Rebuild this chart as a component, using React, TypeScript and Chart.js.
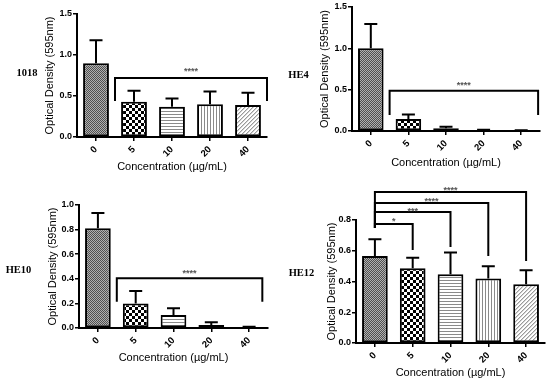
import React, { useEffect, useRef } from 'react';
import { Chart, registerables } from 'chart.js';

Chart.register(...registerables);

// ---------------- DATA ----------------
const categories = ['0', '5', '10', '20', '40'];

const values1018 = [0.9, 0.43, 0.37, 0.4, 0.39];
const errors1018 = [0.28, 0.135, 0.1, 0.155, 0.15];

const valuesHE4 = [1.0, 0.145, 0.032, 0.008, 0.005];
const errorsHE4 = [0.295, 0.055, 0.02, 0.008, 0.005];

const valuesHE10 = [0.81, 0.2, 0.105, 0.024, 0.003];
const errorsHE10 = [0.125, 0.1, 0.055, 0.022, 0.007];

const valuesHE12 = [0.566, 0.486, 0.447, 0.42, 0.382];
const errorsHE12 = [0.108, 0.069, 0.141, 0.08, 0.091];

// significance brackets: [fromIndex, toIndex, barY, fromLegBottom, toLegBottom, labelY, label]
type Bracket = [number, number, number, number, number, number, string];
const brackets1018: Bracket[] = [[0.5, 4.5, 0.72, 0.44, 0.44, 0.82, '****']];
const bracketsHE4: Bracket[] = [[0.5, 4.45, 0.487, 0.193, 0.193, 0.58, '****']];
const bracketsHE10: Bracket[] = [[0.5, 4.35, 0.404, 0.214, 0.214, 0.463, '****']];
const bracketsHE12: Bracket[] = [
  [0, 1, 0.774, 0.748, 0.605, 0.806, '*'],
  [0, 2, 0.852, 0.748, 0.624, 0.871, '***'],
  [0, 3, 0.91, 0.748, 0.566, 0.93, '****'],
  [0, 4, 0.982, 0.748, 0.533, 1.008, '****'],
];

const yMax1018 = 1.5, yStep1018 = 0.5;
const yMaxHE4 = 1.5, yStepHE4 = 0.5;
const yMaxHE10 = 1.0, yStepHE10 = 0.2;
const yMaxHE12 = 0.8, yStepHE12 = 0.2;

const yTitle = 'Optical Density (595nm)';
const xTitle = 'Concentration (\u00b5g/mL)';
const patternKinds = ['dense', 'checker', 'h', 'v', 'diag'];

// ---------------- LAYOUT ----------------
interface PanelDef {
  name: string;
  values: number[];
  errors: number[];
  brackets: Bracket[];
  yMax: number;
  yStep: number;
  left: number; top: number; w: number; h: number;
  padLeft: number; padTop: number; padRight: number;
  yWidth: number; xHeight: number; xTitlePad: number;
  labelX: number; labelY: number;
}

const panels: PanelDef[] = [
  { name: '1018', values: values1018, errors: errors1018, brackets: brackets1018, yMax: yMax1018, yStep: yStep1018,
    left: 0, top: 0, w: 275, h: 190, padLeft: 43.4, padTop: 14, padRight: 8, yWidth: 33.6, xHeight: 53, xTitlePad: 16.4,
    labelX: 27, labelY: 73 },
  { name: 'HE4', values: valuesHE4, errors: errorsHE4, brackets: bracketsHE4, yMax: yMaxHE4, yStep: yStepHE4,
    left: 275, top: 0, w: 275, h: 190, padLeft: 43.4, padTop: 7, padRight: 10, yWidth: 33.6, xHeight: 59, xTitlePad: 20.4,
    labelX: 298.5, labelY: 75 },
  { name: 'HE10', values: valuesHE10, errors: errorsHE10, brackets: bracketsHE10, yMax: yMaxHE10, yStep: yStepHE10,
    left: 0, top: 190, w: 275, h: 192, padLeft: 46.4, padTop: 15, padRight: 7, yWidth: 32.6, xHeight: 54, xTitlePad: 17.4,
    labelX: 18.5, labelY: 270 },
  { name: 'HE12', values: valuesHE12, errors: errorsHE12, brackets: bracketsHE12, yMax: yMaxHE12, yStep: yStepHE12,
    left: 275, top: 178, w: 275, h: 204, padLeft: 50.4, padTop: 42, padRight: 5, yWidth: 30.6, xHeight: 39, xTitlePad: 2.4,
    labelX: 301.5, labelY: 273 },
];

const FONT = "'Liberation Sans', Arial, sans-serif";

function makePattern(kind: string): CanvasPattern | string {
  const c = document.createElement('canvas');
  let s = 3;
  if (kind === 'dense') s = 2;
  if (kind === 'checker') s = 6;
  if (kind === 'diag') s = 4;
  c.width = s; c.height = s;
  const g = c.getContext('2d');
  if (!g) return '#888';
  g.fillStyle = '#ffffff';
  g.fillRect(0, 0, s, s);
  if (kind === 'dense') {
    g.fillStyle = '#b0b0b0'; g.fillRect(0, 0, 2, 2);
    g.fillStyle = '#505050'; g.fillRect(0, 0, 1, 1); g.fillRect(1, 1, 1, 1);
  } else if (kind === 'checker') {
    g.fillStyle = '#000'; g.fillRect(0, 0, 3, 3); g.fillRect(3, 3, 3, 3);
  } else if (kind === 'h') {
    g.fillStyle = '#8a8a8a'; g.fillRect(0, 0, 3, 1);
  } else if (kind === 'v') {
    g.fillStyle = '#8a8a8a'; g.fillRect(0, 0, 1, 3);
  } else if (kind === 'diag') {
    g.fillStyle = '#9a9a9a';
    for (let i = 0; i < 4; i++) g.fillRect(3 - i, i, 1, 1);
    g.fillStyle = '#d4d4d4';
    for (let i = 0; i < 4; i++) g.fillRect((4 - i) % 4, i, 1, 1);
  }
  return g.createPattern(c, 'repeat') || '#888';
}

const overlayPlugin = {
  id: 'overlay',
  afterDatasetsDraw(chart: any, _args: any, opts: any) {
    const ctx: CanvasRenderingContext2D = chart.ctx;
    const meta = chart.getDatasetMeta(0);
    const ys = chart.scales.y;
    const xs = chart.scales.x;
    const data = chart.data.datasets[0].data as number[];
    const errs: number[] = opts.errors || [];
    const brs: Bracket[] = opts.brackets || [];
    ctx.save();
    ctx.strokeStyle = '#000';
    ctx.lineWidth = 2;
    ctx.lineCap = 'butt';
    meta.data.forEach((el: any, i: number) => {
      const topPx = ys.getPixelForValue(data[i] + errs[i]);
      const x = el.x;
      ctx.beginPath();
      ctx.moveTo(x, el.y);
      ctx.lineTo(x, topPx);
      ctx.moveTo(x - 6.5, topPx);
      ctx.lineTo(x + 6.5, topPx);
      ctx.stroke();
    });
    ctx.lineJoin = 'miter';
    brs.forEach((b) => {
      const [from, to, yv, fl, tl, ly, label] = b;
      const x1 = xs.getPixelForValue(from);
      const x2 = xs.getPixelForValue(to);
      const y = ys.getPixelForValue(yv);
      ctx.beginPath();
      ctx.moveTo(x1, ys.getPixelForValue(fl));
      ctx.lineTo(x1, y);
      ctx.lineTo(x2, y);
      ctx.lineTo(x2, ys.getPixelForValue(tl));
      ctx.stroke();
      ctx.fillStyle = '#555';
      ctx.font = `bold 9px ${FONT}`;
      ctx.textAlign = 'center';
      ctx.textBaseline = 'middle';
      ctx.fillText(label, (x1 + x2) / 2, ys.getPixelForValue(ly) + 2);
    });
    ctx.restore();
  },
};

function Panel({ p }: { p: PanelDef }) {
  const ref = useRef<HTMLCanvasElement | null>(null);
  useEffect(() => {
    if (!ref.current) return;
    const patterns = patternKinds.map(makePattern);
    const chart = new Chart(ref.current, {
      type: 'bar',
      data: {
        labels: categories,
        datasets: [{
          data: p.values,
          backgroundColor: patterns as any,
          borderColor: '#000',
          borderWidth: 2,
          borderSkipped: false,
          barPercentage: 0.68,
          categoryPercentage: 1,
        }],
      },
      options: {
        animation: false,
        responsive: false,
        maintainAspectRatio: false,
        layout: { padding: { left: p.padLeft, top: p.padTop, right: p.padRight, bottom: 0 } },
        plugins: {
          legend: { display: false },
          tooltip: { enabled: false },
          overlay: { errors: p.errors, brackets: p.brackets },
        } as any,
        scales: {
          x: {
            grid: { display: true, drawOnChartArea: false, drawTicks: true, tickLength: 4, color: '#000', lineWidth: 1.5, offset: false },
            border: { display: true, color: '#000', width: 2 },
            ticks: { color: '#000', font: { family: FONT, size: 9.5, weight: 'bold' }, minRotation: 45, maxRotation: 45, padding: 3 },
            title: { display: true, text: xTitle, color: '#000', font: { family: FONT, size: 11 }, padding: { top: 0, bottom: p.xTitlePad } },
            afterFit: (s: any) => { s.height = p.xHeight; },
          },
          y: {
            min: 0,
            max: p.yMax,
            grid: { display: true, drawOnChartArea: false, drawTicks: true, tickLength: 4, color: '#000', lineWidth: 1.5 },
            border: { display: true, color: '#000', width: 2 },
            ticks: { stepSize: p.yStep, color: '#000', font: { family: FONT, size: 9, weight: 'bold' }, padding: 1,
              callback: (v: any) => Number(v).toFixed(1) },
            title: { display: true, text: yTitle, color: '#000', font: { family: FONT, size: 11 }, padding: { top: 0, bottom: 0 } },
            afterFit: (s: any) => { s.width = p.yWidth; },
          },
        },
      } as any,
      plugins: [overlayPlugin],
    });
    return () => chart.destroy();
  }, [p]);
  return (
    <canvas
      ref={ref}
      width={p.w}
      height={p.h}
      style={{ position: 'absolute', left: p.left, top: p.top, width: p.w, height: p.h }}
    />
  );
}

export default function App() {
  return (
    <div style={{ position: 'absolute', left: 0, top: 0, width: 550, height: 382, background: '#fff', overflow: 'hidden' }}>
      {panels.map((p) => (
        <Panel key={p.name} p={p} />
      ))}
      {panels.map((p) => (
        <div
          key={'lbl' + p.name}
          style={{
            position: 'absolute', left: p.labelX - 20, top: p.labelY - 7, width: 40, height: 14,
            textAlign: 'center', lineHeight: '14px', fontFamily: "'Liberation Serif', 'Times New Roman', serif",
            fontWeight: 'bold', fontSize: 10.5, color: '#000',
          }}
        >
          {p.name}
        </div>
      ))}
    </div>
  );
}
